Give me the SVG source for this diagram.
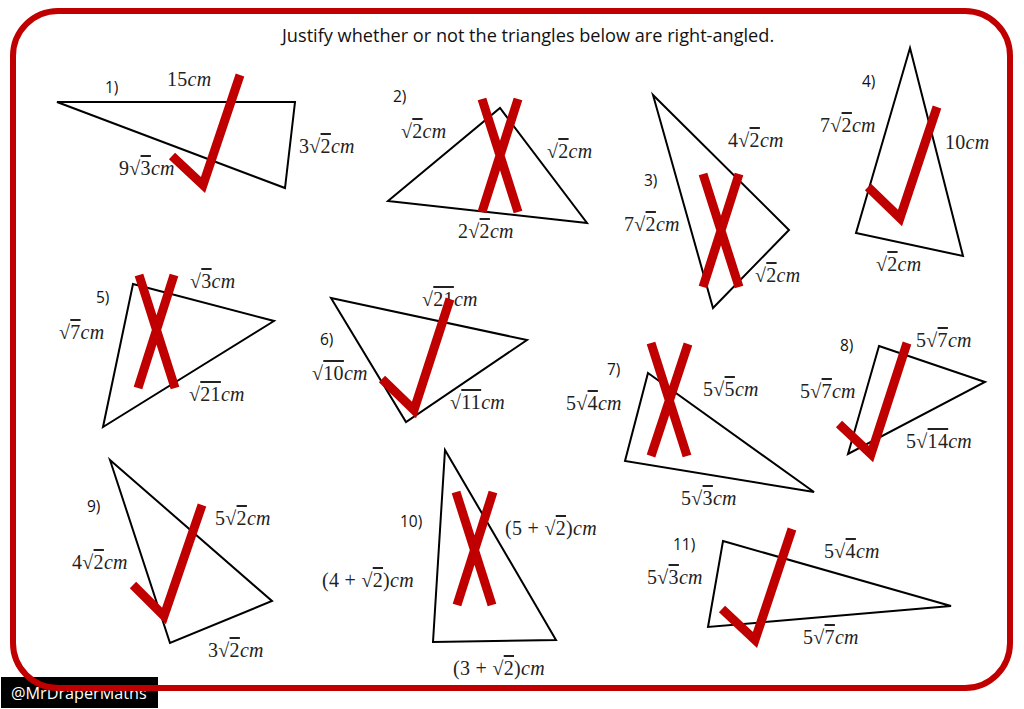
<svg xmlns="http://www.w3.org/2000/svg" width="1024" height="709" viewBox="0 0 1024 709">
<style>
.t{fill:none;stroke:#000;stroke-width:2;stroke-linejoin:miter}
.m{fill:none;stroke:#c00000;stroke-width:9;stroke-linejoin:miter}
.n{font-family:"Open Sans","DejaVu Sans",sans-serif;font-size:15.5px;fill:#111}
.l{font-family:"Liberation Serif","DejaVu Serif",serif;font-size:20px;letter-spacing:.3px;fill:#222}
.i{font-style:italic}
.o{text-decoration:overline;text-decoration-thickness:1px}
.h{font-family:"Open Sans","DejaVu Sans",sans-serif;font-size:18.15px;fill:#111}
</style>
<rect width="1024" height="709" fill="#fff"/>
<g id="title"><text class="h" x="282" y="42">Justify whether or not the triangles below are right-angled.</text></g>
<g id="credit"><rect x="1" y="677" width="157" height="31" fill="#000"/><text x="11" y="699" font-family="'Open Sans','DejaVu Sans',sans-serif" font-size="16.2" fill="#fff">@MrDraperMaths</text></g>
<rect id="frame" x="13" y="11" width="997" height="677" rx="45" fill="none" stroke="#c00000" stroke-width="6"/>
<g id="triangle-1"><polygon class="t" points="57,102 295,102 285,188"/><text class="n" x="105" y="93">1)</text><text class="l" x="167" y="86">15<tspan class="i">cm</tspan></text><text class="l" x="299" y="153">3√<tspan class="o">2</tspan><tspan class="i">cm</tspan></text><text class="l" x="119" y="175">9√<tspan class="o">3</tspan><tspan class="i">cm</tspan></text><polyline class="m" points="172,156 203,185 240,75"/></g>
<g id="triangle-2"><polygon class="t" points="388,201 500,108 587,223"/><text class="n" x="393" y="102">2)</text><text class="l" x="401" y="138">√<tspan class="o">2</tspan><tspan class="i">cm</tspan></text><text class="l" x="547" y="158">√<tspan class="o">2</tspan><tspan class="i">cm</tspan></text><text class="l" x="458" y="238">2√<tspan class="o">2</tspan><tspan class="i">cm</tspan></text><path class="m" d="M482,99 518,212M518,99 482,212"/></g>
<g id="triangle-3"><polygon class="t" points="653,95 789,230 713,308"/><text class="n" x="644" y="186">3)</text><text class="l" x="728" y="147">4√<tspan class="o">2</tspan><tspan class="i">cm</tspan></text><text class="l" x="624" y="231">7√<tspan class="o">2</tspan><tspan class="i">cm</tspan></text><text class="l" x="755" y="282">√<tspan class="o">2</tspan><tspan class="i">cm</tspan></text><path class="m" d="M703,174 739,287M739,174 703,287"/></g>
<g id="triangle-4"><polygon class="t" points="910,48 963,256 856,233"/><text class="n" x="862" y="87">4)</text><text class="l" x="820" y="132">7√<tspan class="o">2</tspan><tspan class="i">cm</tspan></text><text class="l" x="945" y="149">10<tspan class="i">cm</tspan></text><text class="l" x="876" y="271">√<tspan class="o">2</tspan><tspan class="i">cm</tspan></text><polyline class="m" points="868,187 900,218 937,107"/></g>
<g id="triangle-5"><polygon class="t" points="133,284 274,321 103,427"/><text class="n" x="96" y="303">5)</text><text class="l" x="59" y="339">√<tspan class="o">7</tspan><tspan class="i">cm</tspan></text><text class="l" x="190" y="288">√<tspan class="o">3</tspan><tspan class="i">cm</tspan></text><text class="l" x="189" y="401">√<tspan class="o">21</tspan><tspan class="i">cm</tspan></text><path class="m" d="M139,275 175,388M174,275 138,388"/></g>
<g id="triangle-6"><polygon class="t" points="331,298 527,340 406,422"/><text class="n" x="320" y="345">6)</text><text class="l" x="422" y="306">√<tspan class="o">21</tspan><tspan class="i">cm</tspan></text><text class="l" x="312" y="380">√<tspan class="o">10</tspan><tspan class="i">cm</tspan></text><text class="l" x="450" y="409">√<tspan class="o">11</tspan><tspan class="i">cm</tspan></text><polyline class="m" points="382,379 414,410 450,299"/></g>
<g id="triangle-7"><polygon class="t" points="648,373 814,492 625,461"/><text class="n" x="607" y="375">7)</text><text class="l" x="566" y="410">5√<tspan class="o">4</tspan><tspan class="i">cm</tspan></text><text class="l" x="703" y="396">5√<tspan class="o">5</tspan><tspan class="i">cm</tspan></text><text class="l" x="681" y="505">5√<tspan class="o">3</tspan><tspan class="i">cm</tspan></text><path class="m" d="M651,343 687,456M688,344 651,456"/></g>
<g id="triangle-8"><polygon class="t" points="879,346 985,382 848,454"/><text class="n" x="840" y="351">8)</text><text class="l" x="916" y="347">5√<tspan class="o">7</tspan><tspan class="i">cm</tspan></text><text class="l" x="800" y="398">5√<tspan class="o">7</tspan><tspan class="i">cm</tspan></text><text class="l" x="906" y="448">5√<tspan class="o">14</tspan><tspan class="i">cm</tspan></text><polyline class="m" points="839,424 871,454 907,343"/></g>
<g id="triangle-9"><polygon class="t" points="110,460 272,601 170,643"/><text class="n" x="87" y="512">9)</text><text class="l" x="215" y="525">5√<tspan class="o">2</tspan><tspan class="i">cm</tspan></text><text class="l" x="72" y="569">4√<tspan class="o">2</tspan><tspan class="i">cm</tspan></text><text class="l" x="208" y="657">3√<tspan class="o">2</tspan><tspan class="i">cm</tspan></text><polyline class="m" points="133,585 164,616 202,505"/></g>
<g id="triangle-10"><polygon class="t" points="445,450 556,640 433,642"/><text class="n" x="400" y="527">10)</text><text class="l" x="505" y="535">(5 + √<tspan class="o">2</tspan>)<tspan class="i">cm</tspan></text><text class="l" x="322" y="587">(4 + √<tspan class="o">2</tspan>)<tspan class="i">cm</tspan></text><text class="l" x="453" y="675">(3 + √<tspan class="o">2</tspan>)<tspan class="i">cm</tspan></text><path class="m" d="M456,492 492,605M493,492 457,605"/></g>
<g id="triangle-11"><polygon class="t" points="723,541 951,606 708,627"/><text class="n" x="673" y="550">11)</text><text class="l" x="824" y="558">5√<tspan class="o">4</tspan><tspan class="i">cm</tspan></text><text class="l" x="647" y="584">5√<tspan class="o">3</tspan><tspan class="i">cm</tspan></text><text class="l" x="803" y="644">5√<tspan class="o">7</tspan><tspan class="i">cm</tspan></text><polyline class="m" points="722,609 755,640 792,529"/></g>
</svg>
